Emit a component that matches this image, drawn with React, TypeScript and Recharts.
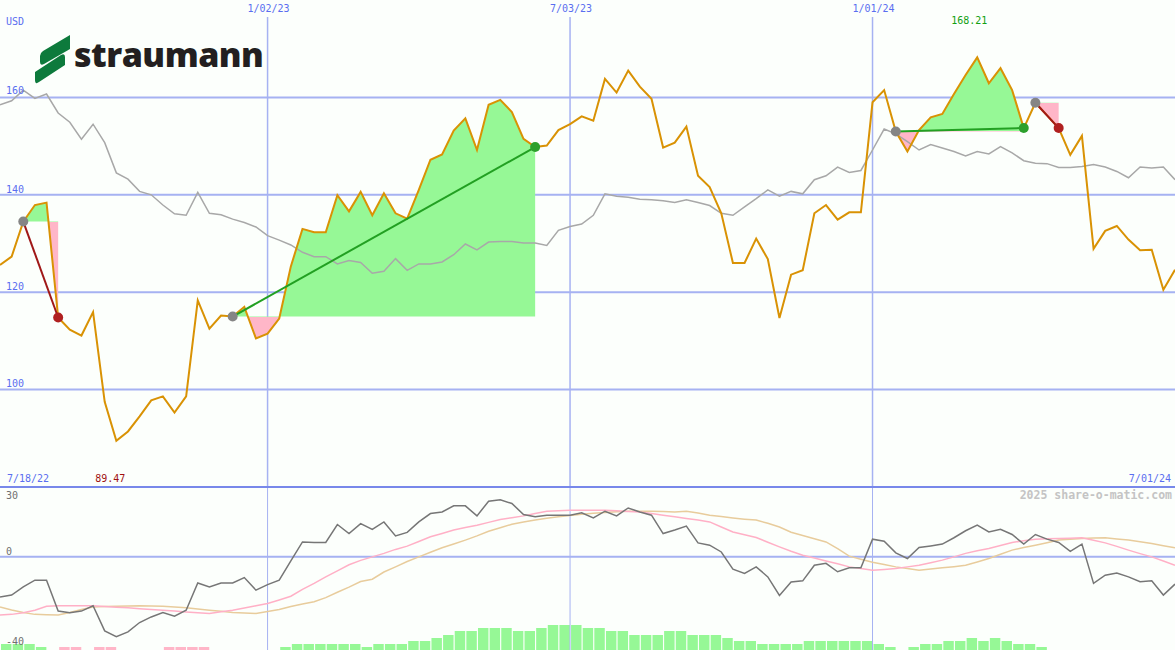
import React from "react";
import {
  Area,
  Bar,
  CartesianGrid,
  Cell,
  ComposedChart,
  Line,
  XAxis,
  YAxis,
} from "recharts";

// weekly closes, USD
const price = [
  125.6, 127.3, 134.5, 137.9, 138.4, 114.8, 112.3, 111.1, 115.9, 97.5,
  89.47, 91.4, 94.5, 97.8, 98.6, 95.3, 98.6, 118.3, 112.5, 115.2,
  115.0, 117.0, 110.5, 111.5, 114.6, 125.3, 133.0, 132.3, 132.3, 139.9,
  136.6, 140.6, 135.8, 140.3, 136.2, 135.1, 141.0, 147.2, 148.3, 153.2,
  155.7, 149.2, 158.5, 159.5, 157.0, 151.5, 149.8, 150.1, 153.3, 154.5,
  156.1, 155.2, 163.8, 161.0, 165.5, 162.2, 159.7, 149.7, 150.7, 154.0,
  143.9, 141.6, 136.2, 126.0, 126.0, 131.0, 126.8, 114.7, 123.6, 124.5,
  136.2, 137.9, 134.9, 136.4, 136.4, 159.0, 161.5, 153.0, 148.9, 153.3,
  155.9, 156.6, 160.7, 164.6, 168.21, 162.9, 166.0, 161.5, 153.7, 158.9,
  156.3, 153.7, 148.2, 152.1, 128.9, 132.6, 133.6, 130.8, 128.6, 128.7,
  120.5, 124.6,
];

// comparison index (gray)
const bench = [
  158.5, 159.3, 161.5, 159.8, 160.7, 156.8, 154.9, 151.4, 154.5, 150.7,
  144.5, 143.2, 140.7, 140.0, 137.9, 136.1, 135.8, 140.5, 136.2, 135.9,
  135.0, 134.3, 133.4, 131.6, 130.7, 129.7, 128.2, 127.3, 127.3, 125.8,
  126.5, 126.1, 123.9, 124.3, 126.9, 124.5, 125.8, 125.8, 126.2, 127.7,
  129.9, 128.7, 130.3, 130.4, 130.4, 130.1, 130.1, 129.6, 132.7, 133.5,
  134.0, 135.8, 140.2, 139.7, 139.5, 139.1, 139.0, 138.8, 138.4, 139.0,
  138.4, 137.8, 136.2, 135.8, 137.5, 139.2, 141.0, 139.7, 140.7, 140.2,
  143.1, 143.9, 145.7, 144.6, 145.0, 149.2, 153.5, 152.5, 150.9, 149.2,
  150.3, 149.6, 148.9, 148.0, 148.9, 148.4, 149.9, 148.6, 147.0, 146.5,
  146.4, 145.6, 145.6, 145.8, 146.2, 145.7, 144.8, 143.5, 145.7, 145.5,
  145.7, 143.1,
];

// oscillator panel
const osc = [
  -17.2, -16.4, -12.9, -10.0, -10.0, -23.3, -24.0, -23.3, -21.0, -31.8,
  -34.3, -32.2, -28.2, -25.8, -23.9, -25.5, -22.9, -11.2, -12.9, -11.2,
  -11.2, -8.9, -14.3, -11.9, -10.0, -1.7, 6.4, 6.2, 6.2, 13.9,
  10.0, 14.3, 11.8, 15.0, 9.0, 10.5, 15.0, 18.6, 19.3, 21.9,
  21.9, 17.6, 23.9, 24.5, 22.9, 18.2, 17.2, 17.9, 17.9, 17.9,
  18.9, 16.7, 19.6, 17.6, 21.0, 19.3, 17.9, 10.0, 11.5, 13.2,
  6.0, 5.0, 2.1, -5.3, -7.1, -4.3, -8.6, -16.6, -10.8, -10.3,
  -3.6, -2.8, -6.4, -4.7, -4.7, 7.6, 6.7, 1.7, -0.7, 4.0,
  4.7, 5.5, 8.2, 11.2, 13.6, 10.7, 11.8, 9.6, 5.5, 9.6,
  7.6, 6.2, 2.4, 5.5, -11.4, -7.9, -6.9, -8.6, -10.7, -10.3,
  -16.4, -11.7,
];

const oscFast = [
  -25.0, -24.7, -24.0, -22.9, -21.2, -21.0, -21.0, -21.0, -21.0, -21.3,
  -21.6, -21.9, -22.3, -22.6, -22.9, -23.3, -23.7, -24.0, -24.3, -23.6,
  -22.9, -22.0, -21.0, -20.0, -18.5, -16.9, -14.0, -11.4, -8.6, -6.0,
  -3.4, -1.5, 0.0, 1.5, 3.2, 4.6, 6.6, 8.6, 10.0, 11.5,
  12.6, 13.6, 14.8, 16.0, 16.8, 17.6, 18.6, 19.6, 19.8, 20.0,
  20.0, 20.0, 20.0, 19.8, 19.5, 19.3, 18.6, 17.9, 17.2, 16.5,
  15.8, 15.0, 12.8, 10.7, 9.5, 8.3, 6.3, 4.3, 2.4, 0.7,
  -0.5, -1.8, -3.0, -4.3, -5.0, -5.7, -5.4, -5.0, -4.3, -3.6,
  -2.5, -1.4, 0.0, 1.5, 2.6, 3.6, 4.9, 6.2, 6.9, 7.6,
  7.8, 7.9, 8.0, 8.2, 7.1, 6.0, 4.5, 2.9, 1.4, 0.0,
  -1.8, -3.6,
];

const oscSlow = [
  -21.5, -22.8, -23.9, -24.7, -24.9, -25.0, -23.9, -22.6, -21.5, -21.3,
  -21.2, -21.1, -21.0, -21.1, -21.2, -21.5, -21.9, -22.4, -22.9, -23.4,
  -23.9, -24.1, -24.3, -23.5, -22.6, -21.3, -20.2, -19.3, -17.5, -15.2,
  -13.0, -10.6, -9.6, -6.5, -4.3, -2.0, 0.0, 2.0, 3.9, 5.5,
  7.2, 9.0, 11.0, 12.5, 14.0, 15.0, 15.8, 16.6, 17.2, 17.8,
  18.3, 18.7, 19.1, 19.4, 19.6, 19.6, 19.6, 19.5, 19.3, 19.6,
  18.8, 17.9, 17.3, 16.7, 16.2, 15.8, 14.4, 12.8, 10.6, 9.2,
  7.8, 6.4, 3.5, 0.3, -1.0, -2.3, -3.3, -4.3, -5.0, -5.7,
  -5.2, -4.7, -4.2, -3.6, -2.2, -0.7, 1.1, 2.9, 4.0, 5.0,
  6.1, 7.2, 7.6, 7.9, 8.1, 8.2, 7.7, 7.2, 6.5, 5.7,
  4.8, 3.9,
];

// histogram between weeks (green up, pink down)
const histo = [
  6, 6, 6, 3, 0, -3, -3, 0, -3, -3,
  0, 0, 0, 0, -3, -3, -3, -3, 0, 0,
  0, 0, 0, 0, 3, 6, 6, 6, 6, 6,
  6, 3, 6, 6, 6, 9, 9, 12, 15, 19,
  19, 22, 22, 22, 19, 19, 22, 25, 25, 25,
  22, 22, 19, 19, 15, 15, 15, 19, 19, 15,
  15, 15, 12, 9, 9, 6, 6, 6, 6, 9,
  9, 9, 9, 9, 9, 6, 3, 0, 3, 6,
  6, 9, 9, 12, 9, 12, 9, 6, 6, 3,
  0, 0, 0, 0, 0, 0, 0, 0, 0, 0,
  0,
];

// week indexes of the date grid lines
const dateTicks = [23, 49, 75];
const dateLabels = ["1/02/23", "7/03/23", "1/01/24"];
const priceTicks = [100, 120, 140, 160];
const priceLabelTops = [379, 282, 185, 86];

// entry / exit week indexes
const trades = [
  { start: 2, end: 5 },
  { start: 20, end: 46 },
  { start: 77, end: 88 },
  { start: 89, end: 91 },
];

const W = 1175;
const TOP_H = 487;
const LOW_H = 163;
const BG = "#fcfffc";
const GRID = "#a6b2f2";
const BLUE_TXT = "#5a6ef0";
const FILL_UP = "#96f896";
const FILL_DOWN = "#ffb6c8";
const MONO = "'DejaVu Sans Mono', monospace";

const rows = price.map((p, i) => {
  const row: Record<string, number | null> = { i, price: p, bench: bench[i] };
  trades.forEach((t, k) => {
    row[`f${k}`] = i >= t.start && i <= t.end ? p : null;
    row[`t${k}`] = i === t.start || i === t.end ? p : null;
  });
  return row;
});

const oscRows = osc.map((v, i) => ({ i, osc: v, fast: oscFast[i], slow: oscSlow[i] }));
const histoRows = histo.map((v, k) => ({ x: k + 0.5, v: Math.abs(v), s: v }));

const xMax = price.length - 1;

function tradeGradient(t: { start: number; end: number }) {
  const lvl = price[t.start];
  const seg = price.slice(t.start, t.end + 1);
  const hi = Math.max(lvl, ...seg);
  const lo = Math.min(lvl, ...seg);
  return hi === lo ? 0 : (hi - lvl) / (hi - lo);
}

function Label({
  x,
  y,
  text,
  color = BLUE_TXT,
  align = "left",
  size = 10,
  bold = false,
  bg = false,
}: {
  x: number;
  y: number;
  text: string;
  color?: string;
  align?: "left" | "center" | "right";
  size?: number;
  bold?: boolean;
  bg?: boolean;
}) {
  const tx = align === "center" ? "translateX(-50%)" : align === "right" ? "translateX(-100%)" : "none";
  return (
    <div
      style={{
        position: "absolute",
        left: x,
        top: y,
        transform: tx,
        fontFamily: MONO,
        fontSize: size,
        lineHeight: `${size}px`,
        color,
        fontWeight: bold ? 700 : 400,
        whiteSpace: "nowrap",
        background: bg ? BG : "transparent",
        padding: bg ? "4px 2px 3px 2px" : 0,
        marginTop: bg ? -4 : 0,
      }}
    >
      {text}
    </div>
  );
}

export default function App() {
  const minIdx = price.indexOf(Math.min(...price));
  const maxIdx = price.indexOf(Math.max(...price));
  const pxPerWeek = W / xMax;

  return (
    <div
      style={{
        position: "absolute",
        left: 0,
        top: 0,
        width: W,
        height: TOP_H + LOW_H,
        background: BG,
        overflow: "hidden",
      }}
    >
      {/* upper price panel */}
      <div style={{ position: "absolute", left: 0, top: 0 }}>
        <ComposedChart width={W} height={TOP_H} data={rows} margin={{ top: 0, right: 0, bottom: 0, left: 0 }}>
          <defs>
            {trades.map((t, k) => {
              const off = tradeGradient(t);
              return (
                <linearGradient key={k} id={`tg${k}`} x1="0" y1="0" x2="0" y2="1">
                  <stop offset={off} stopColor={FILL_UP} />
                  <stop offset={off} stopColor={FILL_DOWN} />
                </linearGradient>
              );
            })}
          </defs>
          <XAxis type="number" dataKey="i" domain={[0, xMax]} ticks={dateTicks} hide />
          <YAxis type="number" domain={[80, 180]} ticks={priceTicks} hide allowDataOverflow />
          <CartesianGrid vertical={false} horizontalValues={priceTicks} stroke={GRID} strokeWidth={2} />
          <CartesianGrid horizontal={false} verticalValues={dateTicks} stroke={GRID} strokeWidth={1.5} />
          {trades.map((t, k) => (
            <Area
              key={`a${k}`}
              type="linear"
              dataKey={`f${k}`}
              baseValue={price[t.start]}
              stroke="none"
              fill={`url(#tg${k})`}
              fillOpacity={1}
              dot={false}
              activeDot={false}
              isAnimationActive={false}
            />
          ))}
          <Line
            type="linear"
            dataKey="bench"
            stroke="#a8a8a8"
            strokeWidth={1.5}
            dot={false}
            activeDot={false}
            isAnimationActive={false}
          />
          <Line
            type="linear"
            dataKey="price"
            stroke="#d99204"
            strokeWidth={2}
            dot={false}
            activeDot={false}
            isAnimationActive={false}
          />
          {trades.map((t, k) => {
            const win = price[t.end] >= price[t.start];
            const col = win ? "#22a022" : "#a01818";
            const endCol = win ? "#2ca02c" : "#b02020";
            return (
              <Line
                key={`t${k}`}
                type="linear"
                dataKey={`t${k}`}
                connectNulls
                stroke={col}
                strokeWidth={2}
                activeDot={false}
                isAnimationActive={false}
                dot={(p: any) => {
                  if (p.value == null || p.cx == null || p.cy == null) return <g key={`d${k}-${p.index}`} />;
                  const isStart = p.index === t.start;
                  return (
                    <circle
                      key={`d${k}-${p.index}`}
                      cx={p.cx}
                      cy={p.cy}
                      r={5}
                      fill={isStart ? "#858585" : endCol}
                    />
                  );
                }}
              />
            );
          })}
        </ComposedChart>
      </div>

      {/* histogram under the oscillator */}
      <div style={{ position: "absolute", left: 0, top: TOP_H }}>
        <ComposedChart width={W} height={LOW_H} data={histoRows} margin={{ top: 0, right: 0, bottom: 0, left: 0 }}>
          <XAxis type="number" dataKey="x" domain={[0, xMax]} hide />
          <YAxis type="number" domain={[0, LOW_H]} hide />
          <Bar dataKey="v" barSize={Math.ceil(pxPerWeek)} isAnimationActive={false}>
            {histoRows.map((r, k) => (
              <Cell key={k} fill={r.s >= 0 ? FILL_UP : FILL_DOWN} />
            ))}
          </Bar>
        </ComposedChart>
      </div>

      {/* oscillator panel */}
      <div style={{ position: "absolute", left: 0, top: TOP_H }}>
        <ComposedChart width={W} height={LOW_H} data={oscRows} margin={{ top: 0, right: 0, bottom: 0, left: 0 }}>
          <XAxis type="number" dataKey="i" domain={[0, xMax]} ticks={dateTicks} hide />
          <YAxis type="number" domain={[-40, 30]} ticks={[0]} hide allowDataOverflow />
          <CartesianGrid vertical={false} horizontalValues={[0]} stroke={GRID} strokeWidth={2} />
          <CartesianGrid horizontal={false} verticalValues={dateTicks} stroke={GRID} strokeWidth={1} />
          <Line type="linear" dataKey="slow" stroke="#e8cc9c" strokeWidth={1.5} dot={false} activeDot={false} isAnimationActive={false} />
          <Line type="linear" dataKey="fast" stroke="#ffb0c6" strokeWidth={1.5} dot={false} activeDot={false} isAnimationActive={false} />
          <Line type="linear" dataKey="osc" stroke="#767676" strokeWidth={1.5} dot={false} activeDot={false} isAnimationActive={false} />
        </ComposedChart>
      </div>

      {/* panel separator */}
      <div style={{ position: "absolute", left: 0, top: TOP_H - 1, width: W, height: 2, background: "#7888ea" }} />

      {/* logo */}
      <svg style={{ position: "absolute", left: 0, top: 0 }} width={80} height={90}>
        <path d="M70,35 L70,49 L44,64 Q40,66 40,62 L40,56 Q40,53 43,51 Z" fill="#0d7a3c" />
        <path d="M35,72 L61,55 Q65,53 65,57 L65,65 L39,82 Q35,85 35,80 Z" fill="#0d7a3c" />
      </svg>
      <div
        style={{
          position: "absolute",
          left: 74,
          top: 32,
          fontFamily: "'Open Sans', sans-serif",
          fontWeight: 800,
          fontSize: 34,
          lineHeight: "44px",
          letterSpacing: -0.5,
          color: "#231f20",
        }}
      >
        straumann
      </div>

      {/* labels */}
      <Label x={6} y={17} text="USD" />
      {priceTicks.map((v, k) => (
        <Label key={v} x={6} y={priceLabelTops[k]} text={String(v)} />
      ))}
      {dateTicks.map((d, k) => (
        <Label key={d} x={d * pxPerWeek + 1} y={4} text={dateLabels[k]} align="center" bg />
      ))}
      <Label x={maxIdx * pxPerWeek - 8} y={16} text={price[maxIdx].toFixed(2)} color="#12a012" align="center" />
      <Label x={7} y={474} text="7/18/22" />
      <Label x={minIdx * pxPerWeek - 6} y={474} text={price[minIdx].toFixed(2)} color="#a01010" align="center" />
      <Label x={1171} y={474} text="7/01/24" align="right" />
      <Label x={6} y={491} text="30" color="#707070" />
      <Label x={6} y={547} text="0" color="#707070" />
      <Label x={6} y={637} text="-40" color="#707070" />
      <Label x={1172} y={490} text="2025 share-o-matic.com" color="#c4c4c4" align="right" size={11.5} bold />
    </div>
  );
}
